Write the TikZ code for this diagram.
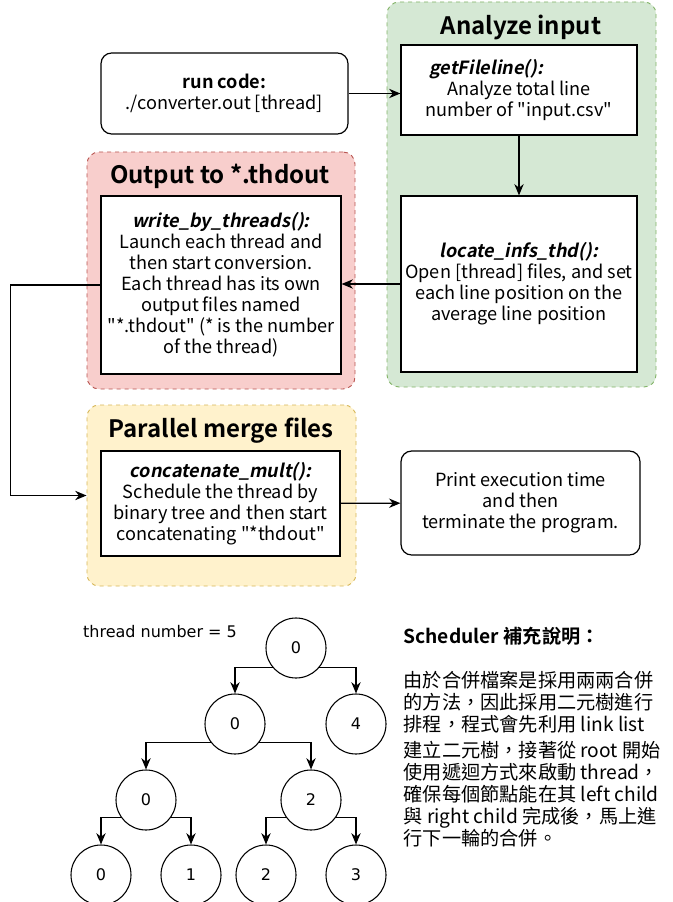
\documentclass[tikz,border=0pt]{standalone}
\usepackage{fontspec}
\setmainfont{Noto Sans CJK TC}[
  Ligatures=TeXOff,
  BoldFont={Noto Sans CJK TC Bold},
  ItalicFont={Noto Sans CJK TC},
  ItalicFeatures={FakeSlant=0.2},
  BoldItalicFont={Noto Sans CJK TC Bold},
  BoldItalicFeatures={FakeSlant=0.2}]
\newfontfamily\treefont{DejaVu Sans}
\usetikzlibrary{positioning, arrows.meta}

\definecolor{inputfill}{HTML}{D5E8D4}
\definecolor{inputline}{HTML}{82B366}
\definecolor{outputfill}{HTML}{F8CECC}
\definecolor{outputline}{HTML}{B85450}
\definecolor{mergefill}{HTML}{FFF2CC}
\definecolor{mergeline}{HTML}{D6B656}

\tikzset{
  group/.style={draw, dashed, rounded corners=9pt, line width=0.7pt},
  grouptitle/.style={font=\fontsize{18}{20}\selectfont\bfseries},
  stepbox/.style={draw, fill=white, line width=0.9pt, align=center,
    font=\fontsize{13.6}{15.75}\selectfont, inner sep=2pt},
  roundbox/.style={stepbox, rounded corners=8pt},
  treenode/.style={draw, circle, line width=0.8pt, minimum size=45pt,
    inner sep=0pt, font=\treefont\fontsize{12}{14}\selectfont},
}

\begin{document}
\begin{tikzpicture}[x=0.75pt, y=-0.75pt, >={Stealth[length=8.5pt, width=7pt]},
    line width=0.9pt]
    \useasboundingbox (0,0) rectangle (672,902);

    % Groups
    \node[group, fill=inputfill, draw=inputline, minimum width=201.75pt, minimum height=288.75pt] (inputgrp) at (521.5,194.5) {};
    \node[group, fill=outputfill, draw=outputline, minimum width=201pt, minimum height=177.75pt] (outputgrp) at (221,270.5) {};
    \node[group, fill=mergefill, draw=mergeline, minimum width=201.75pt, minimum height=135.75pt] (mergegrp) at (221.5,495.5) {};
    \node[grouptitle] (inputttl) at (521,27) {Analyze input};
    \node[grouptitle] (outputttl) at (220,176) {Output to *.thdout};
    \node[grouptitle] (mergettl) at (221,431) {Parallel merge files};

    % Steps
    \node[roundbox, minimum width=185.25pt, minimum height=60.75pt] (run) at (224.5,93.5)
        {\textbf{run code:}\\./converter.out [thread]};
    \node[stepbox, minimum width=177pt, minimum height=67.5pt] (getline) at (519,90)
        {\textbf{\textit{getFileline():}}\hspace*{3.6em}\\Analyze total line\\number of "input.csv"};
    \node[stepbox, minimum width=177pt, minimum height=132pt] (locate) at (519,284)
        {\textbf{\textit{locate\_infs\_thd():}}\\Open [thread] files, and set\\each line position on the\\average line position};
    \node[stepbox, minimum width=180pt, minimum height=133.5pt] (write) at (221,285)
        {\textbf{\textit{write\_by\_threads():}}\\Launch each thread and\\then start conversion.\\Each thread has its own\\output files named\\"*.thdout" (* is the number\\of the thread)};
    \node[stepbox, minimum width=179.25pt, minimum height=78.75pt] (concat) at (220.5,503.5)
        {\textbf{\textit{concatenate\_mult():}}\\Schedule the thread by\\binary tree and then start\\concatenating "*thdout"};
    \node[roundbox, minimum width=179.25pt, minimum height=78pt] (print) at (520.5,503)
        {Print execution time\\and then\\terminate the program.};

    % Flow
    \draw[->] (run.east) -- (getline.west |- run.east);
    \draw[->] (getline) -- (locate);
    \draw[->] (locate.west) -- (write.east |- locate.west);
    \draw[->] (write.west) -- ++(-90,0) |- (mergegrp.west);
    \draw[->] (concat) -- (print);

    % Scheduler tree
    \node[font=\treefont\fontsize{12}{14}\selectfont] (tnum) at (160,632) {thread number = 5};
    \node[treenode] (t0) at (296,648) {0};
    \node[treenode] (t00) at (235,724) {0};
    \node[treenode] (t04) at (356,724) {4};
    \node[treenode] (t000) at (146,800) {0};
    \node[treenode] (t002) at (311,800) {2};
    \node[treenode] (l0) at (101,875) {0};
    \node[treenode] (l1) at (191,875) {1};
    \node[treenode] (l2) at (266,875) {2};
    \node[treenode] (l3) at (356,875) {3};
    \draw[->] (t0.-140) -| (t00.north);
    \draw[->] (t0.-40) -| (t04.north);
    \draw[->] (t00.-143) -| (t000.north);
    \draw[->] (t00.-37) -| (t002.north);
    \draw[->] (t000.-145) -| (l0.north);
    \draw[->] (t000.-35) -| (l1.north);
    \draw[->] (t002.-145) -| (l2.north);
    \draw[->] (t002.-35) -| (l3.north);

    % Note
    \node[anchor=north west, align=left, inner sep=0pt,
        font=\fontsize{14.4}{16.5}\selectfont] (note) at (403,627)
        {\textbf{Scheduler 補充說明：}\\[16.5pt]
        由於合併檔案是採用兩兩合併\\
        的方法，因此採用二元樹進行\\
        排程，程式會先利用 link list\\[3pt]
        建立二元樹，接著從 root 開始\\
        使用遞迴方式來啟動 thread，\\
        確保每個節點能在其 left child\\
        與 right child 完成後，馬上進\\
        行下一輪的合併。};
\end{tikzpicture}
\end{document}
